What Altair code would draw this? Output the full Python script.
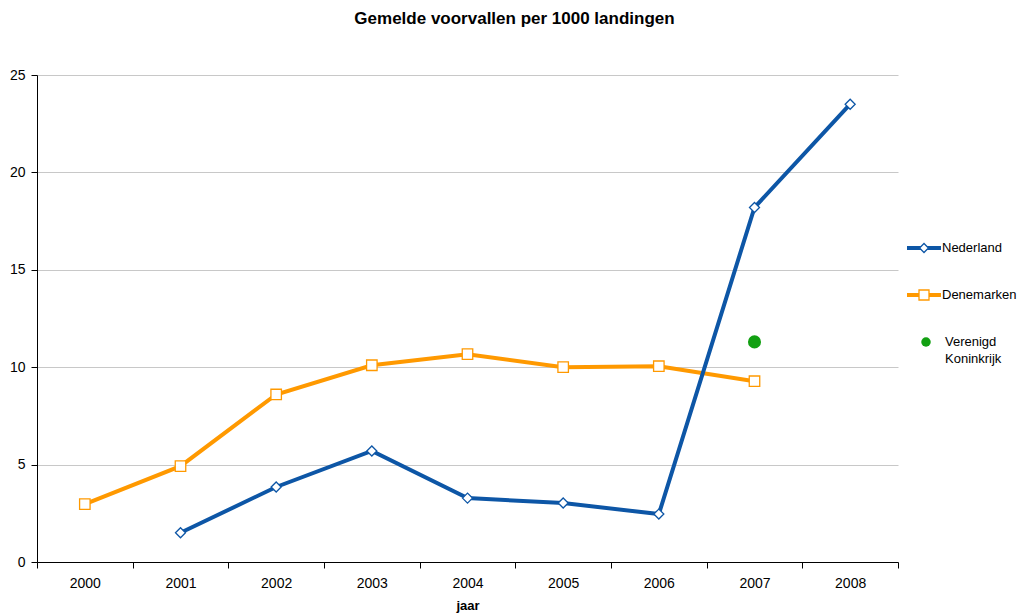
import altair as alt
import pandas as pd

years = ["2000", "2001", "2002", "2003", "2004", "2005", "2006", "2007", "2008"]
ned_years = ["2001", "2002", "2003", "2004", "2005", "2006", "2007", "2008"]
ned_values = [1.5, 3.85, 5.7, 3.28, 3.03, 2.46, 18.2, 23.5]
den_years = ["2000", "2001", "2002", "2003", "2004", "2005", "2006", "2007"]
den_values = [2.97, 4.92, 8.6, 10.1, 10.67, 10.0, 10.05, 9.28]
vk_years = ["2007"]
vk_values = [11.3]

series = ["Nederland", "Denemarken", "Verenigd Koninkrijk"]
colors = ["#0D56A6", "#FF9900", "#12A012"]

ned = pd.DataFrame({"jaar": ned_years, "waarde": ned_values, "land": "Nederland"})
den = pd.DataFrame({"jaar": den_years, "waarde": den_values, "land": "Denemarken"})
vk = pd.DataFrame({"jaar": vk_years, "waarde": vk_values, "land": "Verenigd Koninkrijk"})

FONT = "Liberation Sans"
W, H = 861, 487

x = alt.X("jaar:O", scale=alt.Scale(domain=years, paddingInner=0, paddingOuter=0),
          axis=alt.Axis(title="jaar", labelAngle=0, tickBand="extent", grid=False,
                        domainColor="#000000", tickColor="#000000", tickSize=6,
                        labelPadding=8, titlePadding=9, labelFontSize=14,
                        titleFontSize=13, titleFontWeight="bold",
                        labelFont=FONT, titleFont=FONT, labelColor="#000000",
                        titleColor="#000000"))
y = alt.Y("waarde:Q", scale=alt.Scale(domain=[0, 25], nice=False),
          axis=alt.Axis(title=None, values=[0, 5, 10, 15, 20, 25], grid=True,
                        gridColor="#C8C8C8", domainColor="#000000", tickColor="#000000",
                        tickSize=6, labelPadding=6, labelFontSize=14, labelFont=FONT,
                        labelColor="#000000"))
color = alt.Color("land:N", scale=alt.Scale(domain=series, range=colors), legend=None)
stroke = alt.Stroke("land:N", scale=alt.Scale(domain=series, range=colors), legend=None)

ned_line = alt.Chart(ned).mark_line(strokeWidth=4).encode(x=x, y=y, color=color)
ned_pts = alt.Chart(ned).mark_point(shape="diamond", size=100, filled=True, fill="white",
                                    opacity=1, strokeWidth=1.3).encode(x=x, y=y, stroke=stroke)
den_line = alt.Chart(den).mark_line(strokeWidth=4).encode(x=x, y=y, color=color)
den_pts = alt.Chart(den).mark_point(shape="square", size=110, filled=True, fill="white",
                                    opacity=1, strokeWidth=1.3).encode(x=x, y=y, stroke=stroke)
vk_pts = alt.Chart(vk).mark_circle(size=170, opacity=1).encode(x=x, y=y, color=color)

# custom legend
leg_lines = pd.DataFrame({"land": ["Nederland", "Denemarken"], "ly": [173, 220]})
leg_l = alt.Chart(leg_lines).mark_rule(strokeWidth=4).encode(
    x=alt.value(870), x2=alt.value(904), y=alt.Y("ly:Q", scale=None),
    color=color)
leg_nd = alt.Chart(leg_lines.iloc[[0]]).mark_point(shape="diamond", size=80, filled=True,
    fill="white", opacity=1, strokeWidth=1.3).encode(x=alt.value(887), y=alt.Y("ly:Q", scale=None),
    stroke=alt.value(colors[0]))
leg_dk = alt.Chart(leg_lines.iloc[[1]]).mark_point(shape="square", size=100, filled=True,
    fill="white", opacity=1, strokeWidth=1.3).encode(x=alt.value(887), y=alt.Y("ly:Q", scale=None),
    stroke=alt.value(colors[1]))
leg_vk = alt.Chart(pd.DataFrame({"ly": [267]})).mark_circle(size=90, opacity=1, color=colors[2]).encode(
    x=alt.value(889), y=alt.Y("ly:Q", scale=None))
leg_text = pd.DataFrame({"t": ["Nederland", "Denemarken", "Verenigd", "Koninkrijk"],
                         "ly": [173, 220, 267, 284], "lx": [905, 905, 908, 908]})
leg_t = alt.Chart(leg_text).mark_text(align="left", baseline="middle", fontSize=13,
                                      font=FONT, color="#000000").encode(
    x=alt.X("lx:Q", scale=None), y=alt.Y("ly:Q", scale=None), text="t:N")

chart = alt.layer(den_line, ned_line, den_pts, ned_pts, vk_pts,
                  leg_l, leg_nd, leg_dk, leg_vk, leg_t).properties(
    width=W, height=H,
    title=alt.TitleParams("Gemelde voorvallen per 1000 landingen", font=FONT,
                          fontSize=17, fontWeight="bold", color="#000000",
                          dx=47, offset=40),
    autosize=alt.AutoSizeParams(type="none"),
    padding={"left": 29, "top": 67, "right": 122, "bottom": 52},
).configure_view(stroke=None).configure_axis(labelFont=FONT)

chart.save("out.html", embed_options={"renderer": "svg", "actions": False})
